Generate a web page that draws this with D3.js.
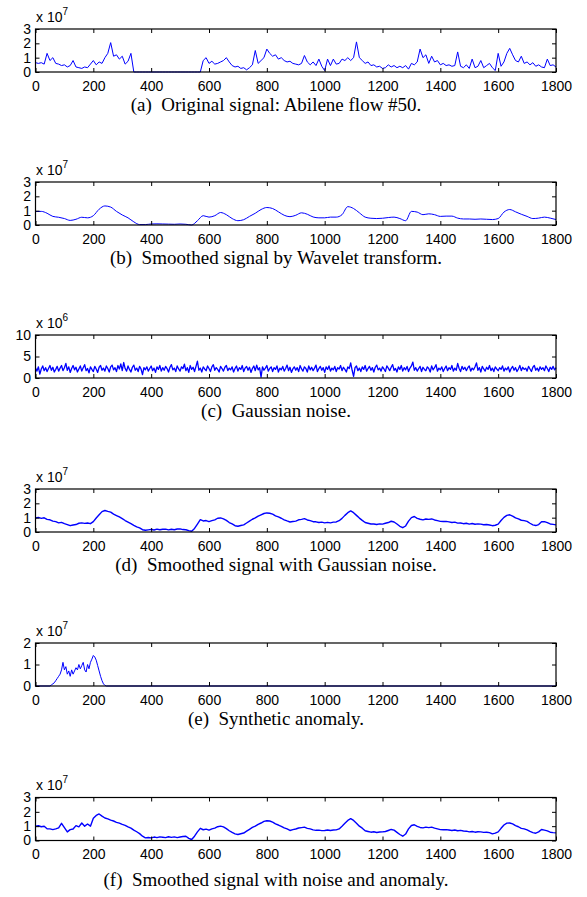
<!DOCTYPE html>
<html><head><meta charset="utf-8">
<script src="https://cdn.jsdelivr.net/npm/d3@7"></script>
<style>body{margin:0;background:#fff}</style>
</head><body><svg id="chart" width="587" height="897"></svg>
<script>
// ---------- data ----------
const xTickValues = [0,200,400,600,800,1000,1200,1400,1600,1800];
const captions = [
  "(a)\u00a0 Original signal: Abilene flow #50.",
  "(b)\u00a0 Smoothed signal by Wavelet transform.",
  "(c)\u00a0 Gaussian noise.",
  "(d)\u00a0 Smoothed signal with Gaussian noise.",
  "(e)\u00a0 Synthetic anomaly.",
  "(f)\u00a0 Smoothed signal with noise and anomaly."
];
const exponents = [7,7,6,7,7,7];
const yMaxes = [3,3,10,3,2,3];
const yTickSets = [[0,1,2,3],[0,1,2,3],[0,5,10],[0,1,2,3],[0,1,2],[0,1,2,3]];

// (a) original signal, x10^7, one value every 10 samples
const originalStep = 10;
const originalSignal = [
0.65,0.6,0.65,0.55,1.3,0.8,1.0,0.6,0.55,0.45,
0.5,0.35,0.45,0.8,0.35,0.3,0.25,0.35,0.3,0.55,
0.8,0.5,0.7,0.6,1.0,1.3,2.05,1.1,1.2,0.9,
1.1,0.55,0.75,1.3,0,0,0,0,0,0,
0,0,0,0,0,0,0,0,0,0,
0,0,0,0,0,0,0,0,0.8,1.0,
0.6,0.75,0.55,0.6,0.7,0.8,1.0,0.7,0.45,0.35,
0.4,0.25,0.3,0.15,0.3,0.5,1.5,0.6,0.8,1.0,
1.6,1.3,1.1,1.2,0.9,1.0,0.8,0.7,0.75,0.6,
0.55,0.5,0.6,1.15,0.7,0.5,0.7,0.45,0.9,0.4,
0.1,0.9,0.45,0.9,0.55,0.6,0.9,0.8,1.0,0.8,
1.0,2.1,1.0,0.8,0.6,0.7,0.45,0.5,0.35,0.4,
0.25,0.3,0.5,0.35,0.45,0.3,0.4,0.3,0.45,0.2,
0.6,0.5,0.7,1.6,1.0,1.2,0.6,1.1,0.7,0.8,
0.5,0.6,0.45,0.5,0.4,0.45,1.4,0.4,0.3,0.5,
0.25,0.9,0.3,0.4,0.8,0.3,0.45,0.6,0.3,0.1,
1.3,0.4,0.7,1.3,1.65,1.2,0.8,0.7,1.1,0.6,
0.7,0.5,0.65,0.4,0.5,0.35,0.3,0.9,0.45,0.5,
0.35];

// (b) wavelet-smoothed signal, x10^7, one value every 20 samples
const smoothStep = 20;
const waveletSmoothed = [
0.94,0.95,0.82,0.6,0.54,0.45,0.32,0.4,0.54,0.5,
0.65,1.1,1.33,1.25,0.95,0.7,0.5,0.22,0.03,0.03,
0.07,0.08,0.07,0.06,0.05,0.07,0.05,0.0,0.3,0.65,
0.55,0.65,0.87,0.72,0.45,0.3,0.37,0.6,0.82,1.08,
1.22,1.15,0.92,0.68,0.58,0.68,0.85,0.75,0.56,0.5,
0.5,0.55,0.55,0.72,1.28,1.15,0.85,0.55,0.47,0.45,
0.47,0.52,0.55,0.45,0.3,0.95,0.9,0.72,0.78,0.72,
0.6,0.62,0.62,0.48,0.42,0.42,0.4,0.42,0.4,0.38,
0.45,0.9,1.08,0.92,0.75,0.6,0.45,0.48,0.55,0.48,
0.38];

// (c) Gaussian noise, x10^6, one value every 5 samples
const noiseStep = 5;
const gaussianNoise = [
2.3,1.6,2.6,0.9,2.1,2.8,1.7,2.4,1.5,2.2,2.9,1.8,2.5,1.4,2.0,2.7,1.6,2.3,2.9,1.7,
2.4,3.4,1.8,2.6,1.3,2.2,2.9,1.9,2.5,1.4,2.1,2.8,1.6,2.4,3.1,1.7,2.2,1.2,2.6,2.0,
1.5,2.7,2.1,1.3,2.5,2.9,1.8,2.3,1.6,2.8,2.2,1.4,2.6,3.0,1.9,2.4,1.5,2.9,2.1,3.3,
1.7,3.6,2.2,1.6,2.8,2.0,1.4,2.5,3.0,1.8,2.3,1.5,2.7,2.1,0.8,2.4,1.9,2.6,1.6,2.2,
2.8,1.7,2.3,1.3,2.6,2.0,2.9,1.6,2.4,1.8,2.7,2.2,1.4,2.5,3.1,1.9,2.3,1.5,2.8,2.1,
1.6,2.6,2.2,3.2,1.7,2.4,1.3,2.9,2.0,2.5,1.5,2.7,3.9,1.8,2.3,1.4,2.6,2.1,1.7,2.8,
2.2,1.5,2.6,3.1,1.8,2.4,2.0,1.4,2.7,2.2,1.6,2.5,2.9,1.7,2.3,1.9,2.6,1.4,2.2,2.8,
1.6,2.4,2.0,2.9,1.5,2.3,2.7,1.8,2.5,1.3,2.2,2.8,1.7,3.0,1.9,2.4,0.2,2.6,1.8,2.3,
2.9,1.6,2.2,2.6,1.5,2.4,2.0,2.8,1.4,2.3,1.9,2.7,1.6,2.2,3.0,1.7,2.5,1.3,2.1,2.6,
1.8,2.4,1.5,2.9,2.1,1.6,2.6,2.2,1.4,2.8,1.9,2.5,1.7,2.3,3.0,1.5,2.2,2.7,1.8,2.4,
1.3,2.6,2.0,2.8,1.6,2.3,1.9,2.7,1.5,2.4,2.1,2.9,1.7,2.5,2.0,1.4,2.6,2.2,3.5,1.8,
0.4,2.4,2.8,1.7,2.3,1.5,2.6,2.0,2.9,1.6,2.2,2.7,1.8,2.4,1.4,2.5,3.0,1.9,2.3,1.6,
2.6,2.1,1.5,2.8,2.3,1.7,2.5,3.1,1.8,2.2,1.4,2.6,2.0,2.9,1.6,2.4,1.9,2.7,1.5,2.3,
2.8,3.7,1.8,2.4,1.6,2.2,2.7,1.5,2.5,2.0,1.7,2.6,2.2,1.4,2.8,1.9,2.4,3.1,1.6,2.3,
1.9,2.6,1.5,2.2,2.8,1.7,2.4,2.0,2.9,1.6,2.3,1.8,3.4,2.2,1.5,2.7,2.0,2.5,1.7,2.4,
2.8,1.6,2.3,1.9,2.6,3.5,1.8,2.4,1.4,2.7,2.1,1.6,2.5,2.0,2.9,1.7,2.3,1.5,2.6,2.1,
1.7,2.4,2.0,2.8,1.6,2.3,1.9,2.6,1.4,2.2,2.7,1.8,2.4,1.5,2.1,2.9,1.7,2.5,2.0,2.3,
1.6,2.7,2.1,1.5,2.5,2.9,1.8,2.3,1.6,2.6,2.0,2.4,1.7,2.8,2.2,1.5,2.5,2.0,2.7,1.9,
2.4];

// (d) smoothed signal with Gaussian noise, x10^7, one value every 10 samples
const noisyStep = 10;
const noisySmoothed = [
0.98,1.02,0.95,0.99,0.88,0.85,0.76,0.72,0.64,0.67,
0.58,0.52,0.44,0.49,0.52,0.61,0.64,0.6,0.63,0.58,
0.72,0.98,1.2,1.42,1.5,1.44,1.39,1.25,1.15,1.05,
0.93,0.8,0.69,0.58,0.46,0.36,0.29,0.16,0.12,0.15,
0.18,0.14,0.2,0.16,0.19,0.2,0.15,0.19,0.16,0.21,
0.22,0.17,0.16,0.1,0.05,0.25,0.55,0.86,0.77,0.8,
0.72,0.79,0.85,0.96,0.98,0.92,0.81,0.66,0.56,0.44,
0.4,0.45,0.5,0.63,0.76,0.89,0.98,1.11,1.2,1.29,
1.33,1.31,1.25,1.13,1.05,0.96,0.85,0.77,0.7,0.73,
0.76,0.85,0.88,0.93,0.84,0.79,0.72,0.71,0.66,0.69,
0.64,0.67,0.64,0.69,0.7,0.79,0.95,1.16,1.35,1.47,
1.35,1.16,0.97,0.81,0.66,0.61,0.56,0.56,0.52,0.57,
0.55,0.61,0.66,0.75,0.7,0.56,0.4,0.3,0.42,0.76,
1.0,1.08,0.95,0.89,0.85,0.91,0.88,0.91,0.84,0.79,
0.74,0.73,0.74,0.71,0.66,0.69,0.62,0.63,0.58,0.61,
0.55,0.59,0.54,0.57,0.55,0.51,0.52,0.49,0.44,0.47,
0.55,0.8,1.02,1.16,1.2,1.11,0.98,0.91,0.82,0.79,
0.74,0.61,0.5,0.45,0.52,0.71,0.72,0.65,0.56,0.53,
0.5];

// (e) synthetic anomaly, x10^7 (zero elsewhere)
const anomalyX = [0,50,55,60,65,70,75,80,85,90,95,100,105,110,115,120,125,130,135,140,145,150,155,160,165,170,175,180,185,190,195,200,205,210,215,220,225,230,235,240,245,1800];
const anomalyValues = [0,0,0.05,0.1,0.15,0.25,0.35,0.45,0.55,0.75,1.1,0.75,0.9,0.55,0.7,0.45,0.75,0.55,0.7,0.85,0.75,1.0,0.8,0.95,1.1,0.75,0.65,1.0,0.8,1.1,1.25,1.42,1.35,1.2,0.95,0.7,0.45,0.25,0.1,0.03,0,0];

// (f) smoothed signal with noise and anomaly, x10^7, one value every 10 samples
const mixedStep = 10;
const noisyWithAnomaly = [
1.0,1.03,0.96,0.99,0.82,0.81,0.76,0.81,0.88,1.2,
0.9,0.6,0.76,0.8,1.04,0.95,1.22,1.0,1.15,1.0,
1.55,1.75,1.85,1.7,1.57,1.51,1.42,1.36,1.27,1.21,
1.12,1.06,0.95,0.86,0.72,0.61,0.48,0.3,0.18,0.21,
0.18,0.24,0.2,0.25,0.23,0.2,0.26,0.22,0.25,0.2,
0.24,0.28,0.3,0.15,0.07,0.3,0.6,0.85,0.75,0.79,
0.72,0.81,0.86,0.96,1.0,0.95,0.83,0.68,0.56,0.46,
0.42,0.47,0.52,0.65,0.78,0.91,1.0,1.13,1.22,1.33,
1.38,1.36,1.28,1.16,1.08,0.99,0.88,0.81,0.7,0.76,
0.8,0.87,0.9,0.93,0.85,0.81,0.74,0.71,0.72,0.69,
0.7,0.73,0.7,0.73,0.74,0.81,1.0,1.2,1.4,1.52,
1.4,1.21,1.0,0.86,0.68,0.63,0.58,0.61,0.56,0.59,
0.6,0.63,0.7,0.77,0.72,0.57,0.42,0.3,0.45,0.81,
1.05,1.1,0.98,0.91,0.88,0.93,0.9,0.93,0.86,0.81,
0.76,0.75,0.76,0.73,0.7,0.73,0.68,0.71,0.66,0.65,
0.6,0.63,0.58,0.61,0.6,0.57,0.58,0.55,0.46,0.51,
0.6,0.85,1.08,1.21,1.22,1.16,1.04,0.96,0.85,0.81,
0.74,0.63,0.55,0.51,0.6,0.77,0.72,0.67,0.58,0.55,
0.53];

// ---------- layout ----------
const plotLeft = 35.5, plotRight = 556;
const panelTops = [29, 182, 335, 489, 643, 797.5];
const panelH = 43;
const captionOffsets = [82, 82, 82, 82, 82, 88];
const captionX = 276;
const lineWidths = [1, 1, 1.3, 1.4, 1, 1.4];
const blue = "#0000ff";

const indexed = (vals, step) => vals.map((v, i) => [i * step, v]);
const series = [
  {pts: indexed(originalSignal, originalStep), curve: d3.curveLinear},
  {pts: indexed(waveletSmoothed, smoothStep), curve: d3.curveMonotoneX},
  {pts: indexed(gaussianNoise, noiseStep), curve: d3.curveLinear},
  {pts: indexed(noisySmoothed, noisyStep), curve: d3.curveLinear},
  {pts: anomalyX.map((x, i) => [x, anomalyValues[i]]), curve: d3.curveLinear},
  {pts: indexed(noisyWithAnomaly, mixedStep), curve: d3.curveLinear}
];

const svg = d3.select("#chart");
const x = d3.scaleLinear().domain([0, 1800]).range([plotLeft, plotRight]);
const font = "'Liberation Sans', Arial, Helvetica, sans-serif";

series.forEach((s, k) => {
  const top = panelTops[k], bottom = top + panelH;
  const y = d3.scaleLinear().domain([0, yMaxes[k]]).range([bottom, top]);
  const g = svg.append("g");

  g.append("path")
    .datum(s.pts)
    .attr("fill", "none")
    .attr("stroke", blue)
    .attr("stroke-width", lineWidths[k])
    .attr("stroke-linejoin", "round")
    .attr("d", d3.line().x(d => x(d[0])).y(d => y(d[1])).curve(s.curve));

  const gb = g.append("g").attr("transform", `translate(0,${bottom})`)
    .call(d3.axisBottom(x).tickValues(xTickValues).tickSize(-4).tickPadding(9).tickFormat(d3.format("d")));
  const gt = g.append("g").attr("transform", `translate(0,${top})`)
    .call(d3.axisTop(x).tickValues(xTickValues).tickSize(-4).tickFormat(""));
  const gl = g.append("g").attr("transform", `translate(${plotLeft},0)`)
    .call(d3.axisLeft(y).tickValues(yTickSets[k]).tickSize(-4).tickPadding(4.5).tickFormat(d3.format("d")));
  const gr = g.append("g").attr("transform", `translate(${plotRight},0)`)
    .call(d3.axisRight(y).tickValues(yTickSets[k]).tickSize(-4).tickFormat(""));
  [gb, gt, gl, gr].forEach(a => {
    a.select(".domain").remove();
    a.selectAll("line").attr("stroke", "#000").attr("stroke-width", 1);
    a.selectAll("text").attr("font-family", font).attr("font-size", 14).attr("fill", "#000");
  });

  g.append("rect")
    .attr("x", plotLeft).attr("y", top)
    .attr("width", plotRight - plotLeft).attr("height", panelH)
    .attr("fill", "none").attr("stroke", "#000").attr("stroke-width", 1.2);

  const ex = g.append("text")
    .attr("x", plotLeft + 0.5).attr("y", top - 7.5)
    .attr("font-family", font).attr("font-size", 14).attr("fill", "#000");
  ex.append("tspan").text("x 10");
  ex.append("tspan").attr("dy", -7).attr("font-size", 10).text(String(exponents[k]));

  g.append("text")
    .attr("x", captionX).attr("y", top + captionOffsets[k])
    .attr("text-anchor", "middle")
    .attr("font-family", "'Liberation Serif', 'Times New Roman', Times, serif")
    .attr("font-size", 19).attr("fill", "#000")
    .style("white-space", "pre")
    .text(captions[k]);
});
</script></body></html>
